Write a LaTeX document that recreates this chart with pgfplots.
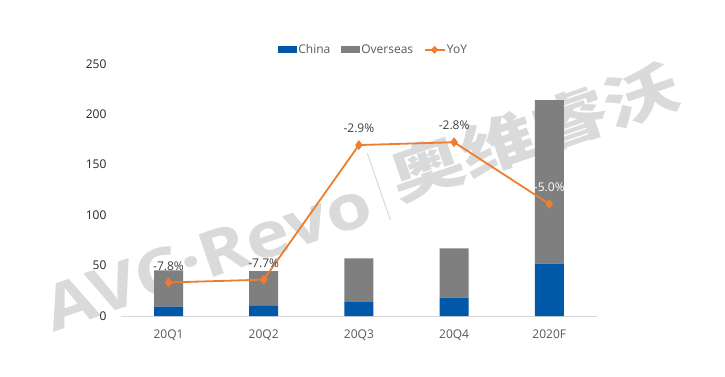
\documentclass[border=0pt]{standalone}
\usepackage{fontspec}
\setmainfont{Open Sans}
\newfontfamily\cjk{Noto Sans CJK SC}
\usepackage{pgfplots}
\pgfplotsset{compat=1.18}
\definecolor{cnblue}{HTML}{0058A8}
\definecolor{osgray}{HTML}{7F7F7F}
\definecolor{yoy}{HTML}{ED7D31}
\definecolor{txt}{HTML}{595959}
\definecolor{ytxt}{HTML}{262626}
\definecolor{dtxt}{HTML}{404040}
\definecolor{wm}{HTML}{DADADA}
\definecolor{axl}{HTML}{D9D9D9}
\pgfplotsset{yoyleg/.style={legend image code/.code={%
  \draw[yoy, line width=1.8pt] (0pt,0pt) -- (20pt,0pt);
  \fill[yoy] (10pt,0pt) +(-3.5pt,0pt) -- +(0pt,3.5pt) -- +(3.5pt,0pt) -- +(0pt,-3.5pt) -- cycle;}}}
\begin{document}
\begin{tikzpicture}[x=1pt,y=1pt]
\useasboundingbox[fill=white] (0,0) rectangle (725,377);
\node[rotate=19, xscale=1.3, text=wm, inner sep=0] at (360,184)
  {\raisebox{-11pt}{\scalebox{0.9}[1]{\fontsize{63}{63}\selectfont\bfseries AVC·Revo}}\hspace{10pt}{\color{wm}\rule[-14pt]{0.8pt}{70pt}}\hspace{10pt}{\fontsize{58}{58}\selectfont\cjk\bfseries 奥维睿沃}};
\begin{axis}[
  name=main,
  at={(127,60.3)}, anchor=south west,
  width=476pt, height=252.4pt, scale only axis,
  ybar stacked, bar width=29pt,
  xmin=-0.5, xmax=4.5, ymin=0, ymax=250,
  xtick={0,1,2,3,4}, xticklabels={20Q1,20Q2,20Q3,20Q4,2020F},
  ytick={0,50,100,150,200,250},
  axis x line*=bottom, axis y line*=left,
  axis line style={-},
  x axis line style={draw=axl, line width=1.2pt},
  y axis line style={draw=none},
  major tick length=0pt,
  /pgf/number format/assume math mode=true,
  ticklabel style={font=\fontsize{12}{14}\selectfont},
  xticklabel style={yshift=-10pt, text=txt},
  yticklabel style={xshift=-11pt, text=ytxt},
  legend style={at={(0.53,1.055)}, anchor=center, draw=none, fill=none,
    legend columns=3, font=\fontsize{12}{14}\selectfont, text=txt,
    nodes={inner xsep=1.5pt},
    /tikz/every even column/.append style={column sep=9pt}},
  legend cell align=left,
]
\addplot[fill=cnblue, draw=none,
  legend image code/.code={\fill[cnblue] (0pt,-3.5pt) rectangle (19pt,3.5pt);}]
  coordinates {(0,9.3) (1,10.6) (2,13.9) (3,18.2) (4,52.0)};
\addlegendentry{China}
\addplot[fill=osgray, draw=none,
  legend image code/.code={\fill[osgray] (0pt,-3.5pt) rectangle (19pt,3.5pt);}]
  coordinates {(0,35.9) (1,34.0) (2,43.2) (3,48.9) (4,162.0)};
\addlegendentry{Overseas}
\addlegendimage{yoyleg}
\addlegendentry{YoY}
\end{axis}
\begin{axis}[
  at={(main.south west)}, anchor=south west,
  width=476pt, height=252.4pt, scale only axis,
  xmin=-0.5, xmax=4.5, ymin=-9, ymax=0,
  axis x line=none, axis y line=none, ticks=none, clip=false,
]
\addplot[yoy, line width=1.8pt, mark=diamond*, mark size=3.5pt,
  point meta=explicit symbolic, nodes near coords,
  nodes near coords style={anchor=center, yshift=16.6pt, text=dtxt,
    font=\fontsize{12}{14}\selectfont}]
  coordinates {(0,-7.8)[-7.8\%] (1,-7.7)[-7.7\%] (2,-2.9)[-2.9\%] (3,-2.8)[-2.8\%] (4,-5.0)[\textcolor{white}{-5.0\%}]};
\end{axis}
\end{tikzpicture}
\end{document}
